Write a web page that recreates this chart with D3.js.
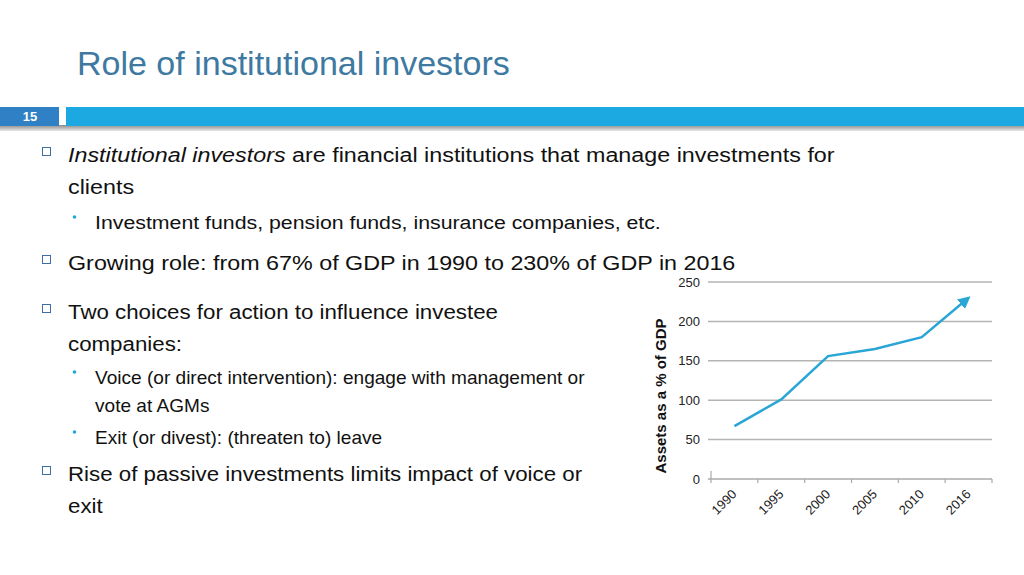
<!DOCTYPE html>
<html>
<head>
<meta charset="utf-8">
<title>Role of institutional investors</title>
<script src="https://cdn.jsdelivr.net/npm/d3@7"></script>
<style>
body { margin: 0; background: #fff; }
svg { display: block; font-family: "Liberation Sans", Arial, sans-serif; }
</style>
</head>
<body>
<script>
// chart data
var years = ["1990", "1995", "2000", "2005", "2010", "2016"];
var assets = [67, 101, 156, 165, 180, 230];
var yTicks = [0, 50, 100, 150, 200, 250];

// slide text, [text, italic] segments per line
var bullets = [
	{lvl: 1, lines: [[["Institutional investors", true], [" are financial institutions that manage investments for", false]], [["clients", false]]]},
	{lvl: 2, lines: [[["Investment funds, pension funds, insurance companies, etc.", false]]]},
	{lvl: 1, lines: [[["Growing role: from 67% of GDP in 1990 to 230% of GDP in 2016", false]]]},
	{lvl: 1, lines: [[["Two choices for action to influence investee", false]], [["companies:", false]]]},
	{lvl: 2, lines: [[["Voice (or direct intervention): engage with management or", false]], [["vote at AGMs", false]]]},
	{lvl: 2, lines: [[["Exit (or divest): (threaten to) leave", false]]]},
	{lvl: 1, lines: [[["Rise of passive investments limits impact of voice or", false]], [["exit", false]]]}
];
// layout per bullet: baseline, font size, horizontal stretch
var bulletY = [162, 229, 270, 319, 384, 444, 481];
var bulletFs = [21, 19.2, 21, 20, 18, 18, 20];
var bulletSx = [1.11, 1.11, 1.11, 1.115, 1.06, 1.06, 1.115];

var W = 1024, H = 575;
var svg = d3.select("body").append("svg").attr("width", W).attr("height", H);

// title
svg.append("text").attr("x", 77).attr("y", 75)
	.attr("font-size", 34).attr("fill", "#3e79a1")
	.text("Role of institutional investors");

// header bar with shadow
var defs = svg.append("defs");
var grad = defs.append("linearGradient").attr("id", "shade").attr("x1", 0).attr("y1", 0).attr("x2", 0).attr("y2", 1);
grad.append("stop").attr("offset", 0).attr("stop-color", "#8a8a8a");
grad.append("stop").attr("offset", 1).attr("stop-color", "#e8e8e8");
svg.append("rect").attr("x", 0).attr("y", 125).attr("width", 1024).attr("height", 6).attr("fill", "url(#shade)");
svg.append("rect").attr("x", 0).attr("y", 107).attr("width", 59).attr("height", 19).attr("fill", "#2f80c4");
svg.append("rect").attr("x", 66).attr("y", 107).attr("width", 958).attr("height", 19).attr("fill", "#1ca8e0");
svg.append("text").attr("x", 30).attr("y", 121).attr("text-anchor", "middle")
	.attr("font-size", 13).attr("font-weight", "bold").attr("fill", "#fff").text("15");

// bullets
bullets.forEach(function(b, k) {
	var by = bulletY[k], fs = bulletFs[k], sx = bulletSx[k];
	var lh = b.lvl == 1 ? 31.5 : 28;
	var tx = b.lvl == 1 ? 68 : 95;
	if (b.lvl == 1) {
		svg.append("rect").attr("x", 42.5).attr("y", by - 14.5).attr("width", 8).attr("height", 8)
			.attr("fill", "none").attr("stroke", "#3c6fa6").attr("stroke-width", 1);
	} else {
		svg.append("circle").attr("cx", 74.5).attr("cy", by - 12).attr("r", 1.8).attr("fill", "#1ca8e0");
	}
	b.lines.forEach(function(line, i) {
		var t = svg.append("text")
			.attr("transform", "translate(" + tx + "," + (by + i * lh) + ") scale(" + sx + ",1)")
			.attr("font-size", fs).attr("fill", "#111");
		line.forEach(function(seg) {
			t.append("tspan").attr("font-style", seg[1] ? "italic" : "normal").text(seg[0]);
		});
	});
});

// chart
var pLeft = 711, pRight = 992, pTop = 282, pBottom = 479;
var x = d3.scaleBand().domain(years).range([pLeft, pRight]);
var y = d3.scaleLinear().domain([0, 250]).range([pBottom, pTop]);
var g = svg.append("g");

g.selectAll("line.grid").data(yTicks.filter(function(d){return d > 0;})).enter().append("line")
	.attr("class", "grid")
	.attr("x1", pLeft - 3).attr("x2", pRight)
	.attr("y1", function(d){return y(d);}).attr("y2", function(d){return y(d);})
	.attr("stroke", "#b4b4b4").attr("stroke-width", 1.5);

var yAxis = g.append("g").attr("transform", "translate(" + pLeft + ",0)")
	.call(d3.axisLeft(y).tickValues(yTicks).tickSize(0).tickPadding(11));
yAxis.select(".domain").remove();
yAxis.selectAll("text").attr("font-size", 13).attr("fill", "#222").attr("font-family", "Liberation Sans, Arial, sans-serif");
// short stub of the value axis above zero
g.append("line").attr("x1", pLeft).attr("x2", pLeft).attr("y1", pBottom - 8).attr("y2", pBottom)
	.attr("stroke", "#aaa").attr("stroke-width", 1.2);

var xAxis = g.append("g").attr("transform", "translate(0," + pBottom + ")")
	.call(d3.axisBottom(x).tickSize(0).tickPadding(0));
xAxis.select(".domain").attr("stroke", "#aaa").attr("stroke-width", 1.5).attr("d", "M" + (pLeft - 3) + ",0H" + pRight);
xAxis.selectAll("text").remove();
// tick marks at band edges
g.selectAll("line.xt").data(years.concat(["end"])).enter().append("line")
	.attr("class", "xt")
	.attr("x1", function(d, i){return pLeft + i * x.step();})
	.attr("x2", function(d, i){return pLeft + i * x.step();})
	.attr("y1", pBottom).attr("y2", pBottom + 4)
	.attr("stroke", "#aaa").attr("stroke-width", 1.2);
g.selectAll("text.xl").data(years).enter().append("text")
	.attr("class", "xl")
	.attr("transform", function(d){return "translate(" + (x(d) + x.bandwidth() / 2 + 3) + "," + (pBottom + 16) + ") rotate(-45)";})
	.attr("text-anchor", "end").attr("font-size", 13).attr("fill", "#222")
	.text(function(d){return d;});

svg.append("text")
	.attr("transform", "translate(666,396) rotate(-90)")
	.attr("text-anchor", "middle").attr("font-size", 15).attr("font-weight", "bold").attr("fill", "#111")
	.text("Assets as a % of GDP");

// line with arrow
defs.append("marker").attr("id", "arrow").attr("viewBox", "0 0 10 10")
	.attr("refX", 8).attr("refY", 5).attr("markerWidth", 5).attr("markerHeight", 5)
	.attr("markerUnits", "strokeWidth").attr("orient", "auto")
	.append("path").attr("d", "M0,0L10,5L0,10z").attr("fill", "#2aa6d6");

var line = d3.line()
	.x(function(d, i){return x(years[i]) + x.bandwidth() / 2;})
	.y(function(d){return y(d);});
g.append("path").datum(assets)
	.attr("d", line).attr("fill", "none")
	.attr("stroke", "#2aa6d6").attr("stroke-width", 2.5)
	.attr("marker-end", "url(#arrow)");
</script>
</body>
</html>
